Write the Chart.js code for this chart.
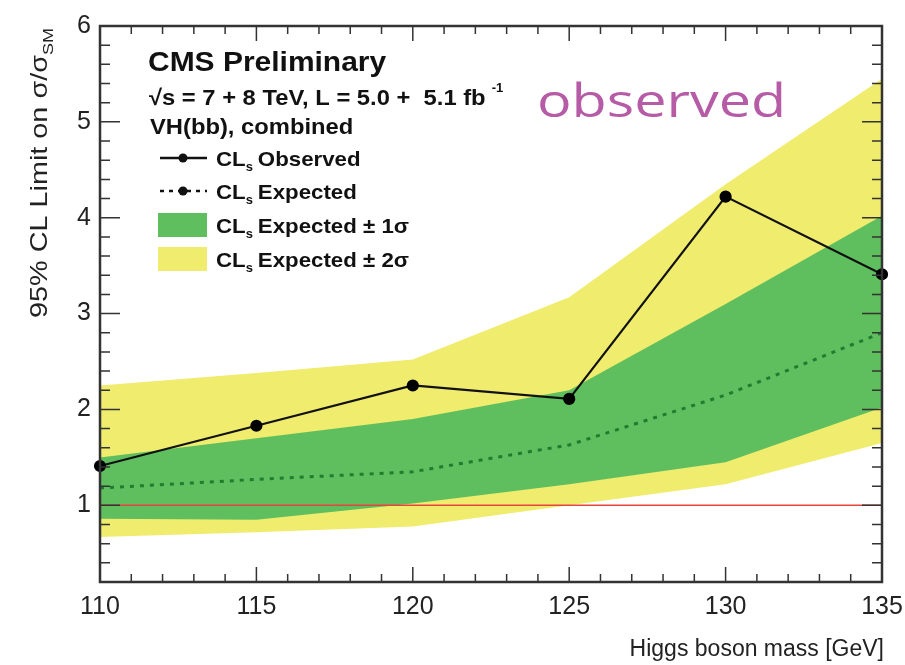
<!DOCTYPE html>
<html>
<head>
<meta charset="utf-8">
<script src="https://cdn.jsdelivr.net/npm/chart.js@4.4.1/dist/chart.umd.min.js"></script>
<style>
  html, body { margin: 0; padding: 0; background: #fff; }
</style>
</head>
<body>
<canvas id="myChart" width="905" height="665"></canvas>
<script>
// values
const masses = [110, 115, 120, 125, 130, 135];
const observed = [1.41, 1.83, 2.25, 2.11, 4.22, 3.41];
const expected = [1.18, 1.27, 1.35, 1.63, 2.15, 2.80];
const band1Up = [1.50, 1.70, 1.90, 2.20, 3.10, 4.02];
const band1Down = [0.86, 0.85, 1.02, 1.22, 1.45, 2.02];
const band2Up = [2.25, 2.38, 2.52, 3.17, 4.35, 5.45];
const band2Down = [0.67, 0.72, 0.78, 1.00, 1.22, 1.65];
const smMass = [110, 135];
const smValue = [1, 1];
const xTicks = [110, 115, 120, 125, 130, 135];
const yTicks = [1, 2, 3, 4, 5, 6];

const YELLOW = '#f0ec6e';
const GREEN = '#5fbf5f';
const FONT = '"Liberation Sans", Arial, sans-serif';

const pts = (xs, ys) => xs.map((x, i) => ({ x: x, y: ys[i] }));

const band = (data, fill, color, order) => ({
  data: pts(masses, data),
  fill: fill,
  backgroundColor: color,
  borderWidth: 0,
  pointRadius: 0,
  order: order
});

// text a bit wider than the font gives, like the stretched original
function wideText(ctx, text, x, y, sx) {
  ctx.save();
  ctx.translate(x, y);
  ctx.scale(sx, 1);
  ctx.fillText(text, 0, 0);
  ctx.restore();
  return ctx.measureText(text).width * sx;
}

// frame, inward ticks and all the text of the ROOT style plot
const decor = {
  id: 'decor',
  afterDraw(chart) {
    const ctx = chart.ctx;
    const a = chart.chartArea;
    const xs = chart.scales.x, ys = chart.scales.y;
    ctx.save();
    ctx.strokeStyle = '#333';
    ctx.lineWidth = 1.5;
    ctx.beginPath();
    for (let v = 110; v <= 135; v++) {
      const px = xs.getPixelForValue(v);
      const len = v % 5 === 0 ? 15 : 8;
      ctx.moveTo(px, a.bottom); ctx.lineTo(px, a.bottom - len);
      ctx.moveTo(px, a.top); ctx.lineTo(px, a.top + len);
    }
    for (let k = 1; k <= 30; k++) {
      const v = k * 0.2;
      const py = ys.getPixelForValue(v);
      const len = k % 5 === 0 ? 20 : 10;
      ctx.moveTo(a.left, py); ctx.lineTo(a.left + len, py);
      ctx.moveTo(a.right, py); ctx.lineTo(a.right - len, py);
    }
    ctx.stroke();
    ctx.lineWidth = 2.5;
    ctx.strokeRect(a.left, a.top, a.right - a.left, a.bottom - a.top);

    // axis titles
    ctx.fillStyle = '#222';
    ctx.font = '23px ' + FONT;
    ctx.textAlign = 'right';
    ctx.textBaseline = 'alphabetic';
    ctx.fillText('Higgs boson mass [GeV]', 884, 656);

    ctx.save();
    ctx.translate(0, 173);
    ctx.rotate(-Math.PI / 2);
    ctx.textAlign = 'left';
    const main = '95% CL Limit on \u03c3/\u03c3';
    ctx.font = '24px ' + FONT;
    const wMain = ctx.measureText(main).width * 1.2;
    ctx.font = '15px ' + FONT;
    const wSub = ctx.measureText('SM').width * 1.2;
    const x0 = -(wMain + wSub) / 2;
    ctx.font = '24px ' + FONT;
    wideText(ctx, main, x0, 47, 1.2);
    ctx.font = '15px ' + FONT;
    wideText(ctx, 'SM', x0 + wMain, 53, 1.2);
    ctx.restore();

    // header
    ctx.textAlign = 'left';
    ctx.fillStyle = '#111';
    ctx.font = 'bold 27px ' + FONT;
    wideText(ctx, 'CMS Preliminary', 148, 71, 1.11);
    ctx.font = 'bold 22px ' + FONT;
    const w = wideText(ctx, '\u221as = 7 + 8 TeV, L = 5.0 +  5.1 fb', 149, 105, 1.08);
    ctx.font = 'bold 13px ' + FONT;
    ctx.fillText('-1', 149 + w + 6, 92);
    ctx.font = 'bold 22px ' + FONT;
    wideText(ctx, 'VH(bb), combined', 150, 134, 1.08);

    // legend entries
    const rows = [
      { y: 158, label: ' Observed', kind: 'obs' },
      { y: 191, label: ' Expected', kind: 'exp' },
      { y: 225, label: ' Expected \u00b1 1\u03c3', kind: GREEN },
      { y: 259, label: ' Expected \u00b1 2\u03c3', kind: YELLOW }
    ];
    for (const r of rows) {
      if (r.kind === 'obs' || r.kind === 'exp') {
        ctx.strokeStyle = '#111';
        ctx.lineWidth = 2.5;
        ctx.setLineDash(r.kind === 'exp' ? [4, 5] : []);
        ctx.beginPath(); ctx.moveTo(160, r.y); ctx.lineTo(207, r.y); ctx.stroke();
        ctx.setLineDash([]);
        ctx.fillStyle = '#111';
        ctx.beginPath(); ctx.arc(183, r.y, 4.5, 0, Math.PI * 2); ctx.fill();
      } else {
        ctx.fillStyle = r.kind;
        ctx.fillRect(158, r.y - 12, 49, 24);
      }
      ctx.fillStyle = '#111';
      ctx.font = 'bold 21px ' + FONT;
      const wc = wideText(ctx, 'CL', 216, r.y + 8, 1.06);
      ctx.font = 'bold 13px ' + FONT;
      ctx.fillText('s', 216 + wc, r.y + 13);
      ctx.font = 'bold 21px ' + FONT;
      wideText(ctx, r.label, 216 + wc + 6, r.y + 8, 1.06);
    }

    ctx.fillStyle = '#b65ba6';
    ctx.font = '46px "Open Sans", ' + FONT;
    wideText(ctx, 'observed', 537, 117, 1.25);
    ctx.restore();
  }
};

const config = {
  type: 'line',
  data: {
    datasets: [
      band(band2Up, 1, YELLOW, 10),
      band(band2Down, false, YELLOW, 10),
      band(band1Up, 3, GREEN, 8),
      band(band1Down, false, GREEN, 8),
      {
        data: pts(smMass, smValue),
        borderColor: '#e8443f',
        borderWidth: 1.5,
        pointRadius: 0,
        fill: false,
        order: 4
      },
      {
        data: pts(masses, expected),
        borderColor: '#1e7d2e',
        borderWidth: 3,
        borderDash: [4, 6],
        pointRadius: 0,
        fill: false,
        order: 3
      },
      {
        data: pts(masses, observed),
        borderColor: '#111',
        borderWidth: 2.2,
        pointRadius: 5,
        pointBackgroundColor: '#000',
        pointBorderColor: '#000',
        fill: false,
        clip: false,
        order: 1
      }
    ]
  },
  options: {
    responsive: false,
    animation: false,
    tension: 0,
    layout: { padding: { top: 26, right: 23, left: 0, bottom: 0 } },
    plugins: {
      legend: { display: false },
      tooltip: { enabled: false }
    },
    scales: {
      x: {
        type: 'linear',
        min: 110,
        max: 135,
        grid: { display: false, drawTicks: false },
        border: { display: false },
        afterBuildTicks: s => { s.ticks = xTicks.map(v => ({ value: v })); },
        afterFit: s => { s.height = 83; s.paddingLeft = 0; s.paddingRight = 0; },
        ticks: {
          padding: 10,
          color: '#222',
          font: { family: FONT, size: 25 },
          maxRotation: 0
        }
      },
      y: {
        type: 'linear',
        min: 0.2,
        max: 6,
        grid: { display: false, drawTicks: false },
        border: { display: false },
        afterBuildTicks: s => { s.ticks = yTicks.map(v => ({ value: v })); },
        afterFit: s => { s.width = 100; },
        ticks: {
          padding: 9,
          color: '#222',
          font: { family: FONT, size: 25 }
        }
      }
    }
  },
  plugins: [decor]
};

const myChart = new Chart(document.querySelector('#myChart'), config);
</script>
</body>
</html>
